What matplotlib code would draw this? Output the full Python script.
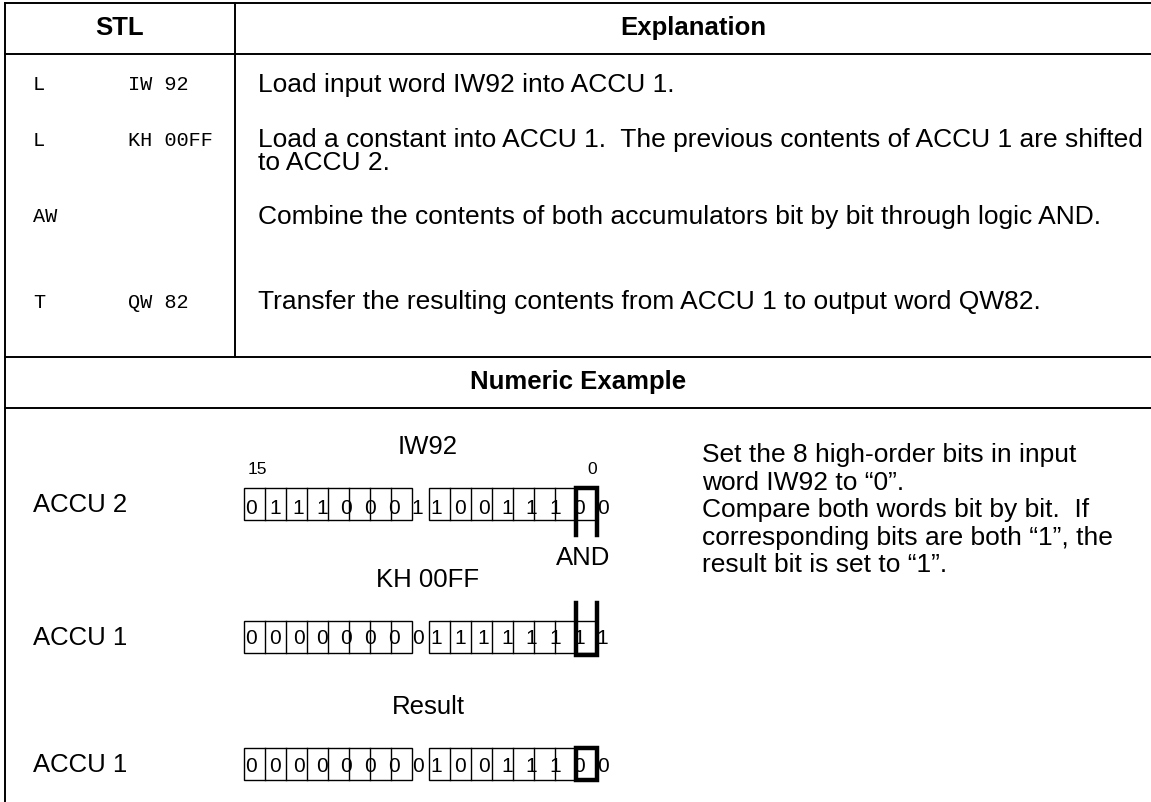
import matplotlib
matplotlib.use("Agg")
import matplotlib.pyplot as plt

# ---------------- data ----------------
stl_ops = ["L", "L", "AW", "T"]
stl_operands = ["IW 92", "KH 00FF", "", "QW 82"]
explanation_lines = [
    ["Load input word IW92 into ACCU 1."],
    ["Load a constant into ACCU 1.  The previous contents of ACCU 1 are shifted",
     "to ACCU 2."],
    ["Combine the contents of both accumulators bit by bit through logic AND."],
    ["Transfer the resulting contents from ACCU 1 to output word QW82."],
]
header_left = "STL"
header_right = "Explanation"
section_title = "Numeric Example"

word_titles = ["IW92", "KH 00FF", "Result"]
accu_labels = ["ACCU 2", "ACCU 1", "ACCU 1"]
iw92_bits = [0, 1, 1, 1, 0, 0, 0, 1, 1, 0, 0, 1, 1, 1, 0, 0]
kh00ff_bits = [0, 0, 0, 0, 0, 0, 0, 0, 1, 1, 1, 1, 1, 1, 1, 1]
result_bits = [0, 0, 0, 0, 0, 0, 0, 0, 1, 0, 0, 1, 1, 1, 0, 0]
bit_rows = [iw92_bits, kh00ff_bits, result_bits]
msb_label, lsb_label = "15", "0"
op_label = "AND"
note_lines = [
    "Set the 8 high-order bits in input",
    "word IW92 to \u201c0\u201d.",
    "Compare both words bit by bit.  If",
    "corresponding bits are both \u201c1\u201d, the",
    "result bit is set to \u201c1\u201d.",
]

# ---------------- layout ----------------
W, H = 1151, 802
SANS = "Liberation Sans"
MONO = "Liberation Mono"
FS = 19
FS_LBL = 18.5
FS_BOLD = 18.5
FS_MONO = 14.6
FS_BIT = 15
FS_BITNO = 12.5

fig = plt.figure(figsize=(W / 100, H / 100), dpi=100)
ax = fig.add_axes([0, 0, 1, 1])
ax.set_xlim(0, W)
ax.set_ylim(H, 0)
ax.axis("off")

LW = 1.4
x_left, x_right = 5, W
y_top, y_head, y_tab_end, y_sec_end = 3, 54, 357, 408
x_div = 235

# table frame
ax.plot([x_left, x_left], [y_top, H], color="black", lw=LW)
for yy in (y_top, y_head, y_tab_end, y_sec_end):
    ax.plot([x_left, x_right], [yy, yy], color="black", lw=LW)
ax.plot([x_div, x_div], [y_top, y_tab_end], color="black", lw=LW)

# headers
ax.text((x_left + x_div) / 2, 28, header_left, fontsize=FS_BOLD, fontweight="bold",
        family=SANS, ha="center", va="center")
ax.text((x_div + x_right) / 2, 28, header_right, fontsize=FS_BOLD, fontweight="bold",
        family=SANS, ha="center", va="center")
ax.text((x_left + x_right) / 2, 382, section_title, fontsize=FS_BOLD, fontweight="bold",
        family=SANS, ha="center", va="center")

# STL rows
row_y = [85, 140, 217, 302]
line_gap = 23
for op, arg, lines, yy in zip(stl_ops, stl_operands, explanation_lines, row_y):
    ax.text(33, yy, op, fontsize=FS_MONO, family=MONO, ha="left", va="center")
    ax.text(128, yy, arg, fontsize=FS_MONO, family=MONO, ha="left", va="center")
    for k, ln in enumerate(lines):
        ax.text(258, yy + k * line_gap, ln, fontsize=FS, family=SANS,
                ha="left", va="center")

# bit registers
box_top = [488, 621, 748]
box_h = 32
cell_w = 21
group_x0 = [244, 429]
digit_step = 23.8
digit_dy = [5, 1, 2]
label_y = [447, 580, 707]
for r, bits in enumerate(bit_rows):
    yt = box_top[r]
    yb = yt + box_h
    yc = (yt + yb) / 2
    ax.text(33, yc + 1, accu_labels[r], fontsize=FS_LBL, family=SANS, ha="left", va="center")
    ax.text(428, label_y[r], word_titles[r], fontsize=FS_LBL, family=SANS,
            ha="center", va="center")
    for g, x0 in enumerate(group_x0):
        ax.add_patch(plt.Rectangle((x0, yt), 8 * cell_w, box_h, fill=False,
                                   ec="black", lw=1.0))
        for c in range(1, 8):
            ax.plot([x0 + c * cell_w] * 2, [yt, yb], color="black", lw=1.0)
        for i in range(8):
            b = bits[g * 8 + i]
            ax.text(x0 + 7 + i * digit_step, yc + digit_dy[r], str(b), fontsize=FS_BIT,
                    family=SANS, ha="center", va="center")

# bit numbers
ax.text(257, 470, msb_label, fontsize=FS_BITNO, family=SANS, ha="center", va="center")
ax.text(592, 470, lsb_label, fontsize=FS_BITNO, family=SANS, ha="center", va="center")

# thick markers around bit 0
xl = group_x0[1] + 7 * cell_w
xr = group_x0[1] + 8 * cell_w
TLW = 3.2
ax.plot([xl, xl, xr, xr], [535, box_top[0], box_top[0], 535], color="black",
        lw=TLW, solid_joinstyle="miter")
ax.plot([xl, xl, xr, xr], [603, 655, 655, 603], color="black",
        lw=TLW, solid_joinstyle="miter")
ax.add_patch(plt.Rectangle((xl, box_top[2]), cell_w, box_h, fill=False,
                           ec="black", lw=TLW, joinstyle="miter"))
ax.text(583, 558, op_label, fontsize=FS_LBL, family=SANS, ha="center", va="center")

# notes
for k, ln in enumerate(note_lines):
    ax.text(702, 455 + k * 27.5, ln, fontsize=FS, family=SANS, ha="left", va="center")

fig.savefig("out.png", dpi=100, facecolor="white")
